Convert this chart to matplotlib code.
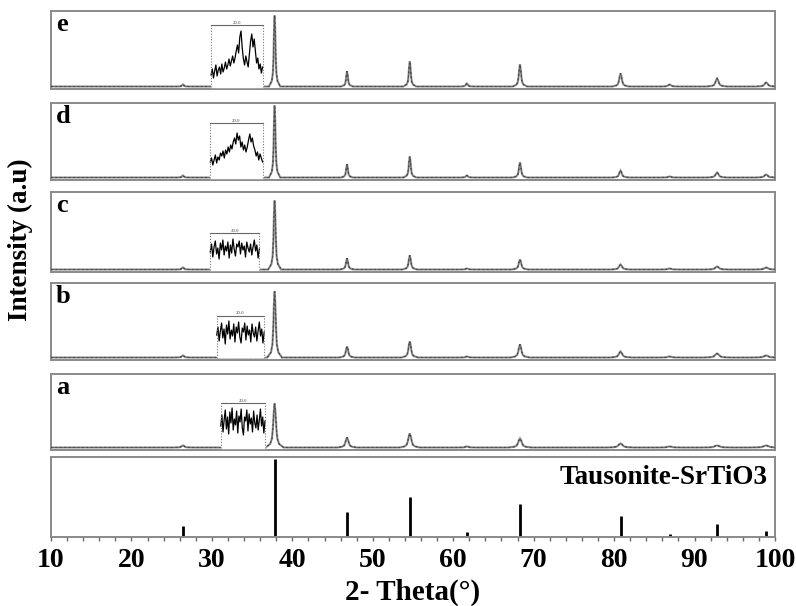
import numpy as np
import matplotlib
matplotlib.use("Agg")
import matplotlib.pyplot as plt

plt.rcParams['font.family'] = ['Liberation Serif', 'DejaVu Serif']

# ---------------- data ----------------
panel_names = ["e", "d", "c", "b", "a"]

peak_pos = [26.4, 37.8, 46.8, 54.6, 61.7, 68.3, 80.8, 86.9, 92.8, 98.9]
peak_hwhm = [0.15, 0.14, 0.15, 0.16, 0.17, 0.18, 0.21, 0.23, 0.25, 0.27]

# peak heights above baseline (arbitrary units, panel scale ~ 0-80)
heights_e = [2, 71, 15, 25, 3, 22, 13, 2, 8, 4]
heights_d = [2, 72, 13, 21, 2, 15, 7, 1, 5, 3]
heights_c = [2, 69, 11, 14, 1, 10, 5, 1, 3, 2]
heights_b = [2, 66, 11, 16, 1, 13, 6, 1, 4, 2]
heights_a = [2, 44, 10, 14, 1, 9, 4, 1, 2, 2]
broadening = [1.0, 1.0, 1.15, 1.3, 1.6]
baseline = 2.5

# magnified insets (2theta range, box top, values)
inset_e_range = [29.9, 36.3]
inset_e_top = 64
inset_e = [14, 20, 11, 18, 24, 13, 19, 22, 15, 25, 17, 21, 27, 20, 24, 30, 23, 28, 33, 26,
           31, 38, 44, 36, 52, 58, 41, 30, 24, 33, 27, 22, 35, 48, 55, 42, 50, 38, 26, 31,
           20, 25, 16, 22]
inset_d_range = [29.8, 36.3]
inset_d_top = 57
inset_d = [18, 22, 15, 20, 25, 17, 23, 20, 27, 24, 29, 22, 30, 26, 33, 28, 35, 31, 38, 42,
           36, 47, 40, 44, 33, 38, 30, 35, 28, 33, 40, 46, 38, 42, 34, 30, 24, 28, 20, 26,
           22, 18]
inset_c_range = [29.8, 35.9]
inset_c_top = 39
inset_c = [20, 28, 15, 25, 31, 18, 24, 13, 29, 22, 32, 17, 26, 21, 30, 14, 27, 19, 33, 23,
           16, 28, 25, 31, 18, 29, 22, 26, 15, 30, 24, 20, 28, 17, 25, 32, 21, 27, 14, 23]
inset_b_range = [30.6, 36.5]
inset_b_top = 44
inset_b = [25, 33, 19, 29, 37, 22, 31, 16, 35, 26, 39, 21, 30, 24, 36, 18, 33, 27, 38, 23,
           17, 32, 28, 37, 20, 34, 25, 30, 18, 36, 27, 23, 33, 19, 29, 38, 24, 31, 17, 28]
inset_a_range = [31.1, 36.6]
inset_a_top = 47
inset_a = [24, 35, 18, 30, 40, 21, 33, 16, 38, 27, 42, 20, 31, 25, 39, 17, 34, 28, 41, 22,
           15, 33, 29, 40, 19, 36, 26, 32, 18, 39, 27, 22, 35, 20, 30, 41, 24, 33, 17, 29]
inset_label = "20.0"

# reference pattern (Tausonite-SrTiO3)
ref_heights = [14, 100, 32, 51, 6, 42, 27, 4, 17, 8]
ref_label = "Tausonite-SrTiO3"

x_ticks = [10, 20, 30, 40, 50, 60, 70, 80, 90, 100]

panel_heights = [heights_e, heights_d, heights_c, heights_b, heights_a]
panel_insets = [(inset_e_range, inset_e_top, inset_e), (inset_d_range, inset_d_top, inset_d),
                (inset_c_range, inset_c_top, inset_c), (inset_b_range, inset_b_top, inset_b),
                (inset_a_range, inset_a_top, inset_a)]

# peak profile template (multiples of HWHM, fraction of height)
shape_off = [-5, -2.5, -1.5, -1, -0.5, 0, 0.5, 1, 1.5, 2.5, 5]
shape_frac = [0, 0.08, 0.2, 0.42, 0.78, 1, 0.78, 0.42, 0.2, 0.08, 0]

# ---------------- layout ----------------
W, H = 796, 606
fig = plt.figure(figsize=(W / 100, H / 100), dpi=100)
left_px, right_px = 51, 775
boxes = [(11, 89), (103, 180), (192, 272), (283, 360), (374, 450)]
ref_box = (457, 537)

frame_col = "#8a8a8a"


def add_axes(top, bot):
    ax = fig.add_axes([left_px / W, 1 - bot / H, (right_px - left_px) / W, (bot - top) / H])
    for s in ax.spines.values():
        s.set_color(frame_col)
        s.set_linewidth(1.4)
    ax.set_xlim(10, 100)
    return ax


for i, name in enumerate(panel_names):
    top, bot = boxes[i]
    ax = add_axes(top, bot)
    ax.set_ylim(0, bot - top)
    ax.set_xticks([])
    ax.set_yticks([])
    # build profile
    xs = [10.0]
    ys = [baseline]
    for p, w0, h in zip(peak_pos, peak_hwhm, panel_heights[i]):
        w = w0 * broadening[i]
        for o, f in zip(shape_off, shape_frac):
            xs.append(p + o * w)
            ys.append(baseline + h * f)
    xs.append(100.0)
    ys.append(baseline)
    ax.plot(xs, ys, color="#a0a0a0", lw=1.6, solid_joinstyle="miter", zorder=2)
    ax.plot(xs, ys, color="#222222", lw=0.8, ls=(0, (1.5, 2.5)), zorder=3)
    ax.plot(xs, ys, color="#555555", lw=0.5, zorder=3)
    # inset
    rng, btop, vals = panel_insets[i]
    ix = np.linspace(rng[0], rng[1], len(vals))
    ax.fill_between([rng[0], rng[1]], baseline, btop, color="white", zorder=4)
    ax.plot(ix, vals, color="black", lw=0.9, zorder=5)
    ax.plot([rng[0], rng[0]], [baseline, btop], color="#777777", lw=0.8, ls=(0, (1, 1.5)), zorder=5)
    ax.plot([rng[1], rng[1]], [baseline, btop], color="#777777", lw=0.8, ls=(0, (1, 1.5)), zorder=5)
    ax.plot([rng[0], rng[1]], [btop, btop], color="#666666", lw=0.8, zorder=5)
    ax.text((rng[0] + rng[1]) / 2, btop + 0.5, inset_label, fontsize=3.5, ha="center",
            va="bottom", color="#444444", zorder=6)
    ax.text(0.007, 1 - 20 / (bot - top), name, transform=ax.transAxes, fontsize=19,
            fontweight="bold", ha="left", va="baseline")

# reference panel
top, bot = ref_box
ax = add_axes(top, bot)
ax.set_ylim(0, 103)
ax.vlines(peak_pos, 0, ref_heights, color="black", lw=2.0)
ax.set_yticks([])
ax.set_xticks(x_ticks)
ax.set_xticks(np.arange(10, 101, 2), minor=True)
ax.tick_params(axis="x", which="both", direction="out", color="#666666", length=3, width=1,
               labelsize=20, pad=5)
for lab in ax.get_xticklabels():
    lab.set_fontweight("bold")
ax.text(0.99, 0.9, ref_label, transform=ax.transAxes, fontsize=19.5, fontweight="bold",
        ha="right", va="top")
ax.set_xlabel("2- Theta(°)", fontsize=21, fontweight="bold", labelpad=4)

fig.text(20 / W, 1 - 240 / H, "Intensity (a.u)", rotation=90, fontsize=19.5, fontweight="bold",
         ha="center", va="center")

fig.savefig("out.png", dpi=100)
